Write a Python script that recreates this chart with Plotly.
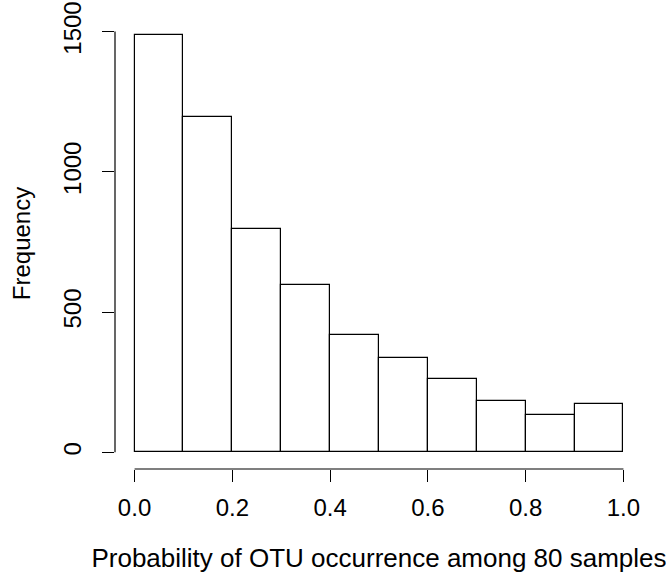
import plotly.graph_objects as go

bin_starts = [0.0, 0.1, 0.2, 0.3, 0.4, 0.5, 0.6, 0.7, 0.8, 0.9]
counts = [1489, 1195, 796, 598, 419, 336, 260, 182, 133, 174]
bin_width = 0.1
x_ticks = [0.0, 0.2, 0.4, 0.6, 0.8, 1.0]
x_tick_labels = ["0.0", "0.2", "0.4", "0.6", "0.8", "1.0"]
y_ticks = [0, 500, 1000, 1500]
y_tick_labels = ["0", "500", "1000", "1500"]
x_title = "Probability of OTU occurrence among 80 samples"
y_title = "Frequency"

FONT = "Liberation Sans, Arial, Helvetica, sans-serif"
TICK_FS = 24
ymax = max(counts)

fig = go.Figure()
fig.add_trace(go.Bar(
    x=[s + bin_width / 2 for s in bin_starts],
    y=counts,
    width=bin_width,
    marker=dict(color="white", line=dict(color="black", width=1.2)),
    hoverinfo="x+y",
))

fig.add_shape(type="line", xref="x", yref="paper", x0=x_ticks[0], x1=x_ticks[-1], y0=0, y1=0,
              line=dict(color="black", width=1.2))
fig.add_shape(type="line", xref="paper", yref="y", x0=0, x1=0, y0=y_ticks[0], y1=y_ticks[-1],
              line=dict(color="black", width=1.2))

fig.update_layout(
    width=666, height=575,
    margin=dict(l=115, r=23, t=18, b=106, autoexpand=False),
    paper_bgcolor="white", plot_bgcolor="white",
    showlegend=False,
    font=dict(family=FONT, size=TICK_FS, color="black"),
    bargap=0,
    xaxis=dict(
        range=[-0.04, 1.04], showgrid=False, zeroline=False, showline=False,
        automargin=False,
        tickmode="array", tickvals=x_ticks, ticktext=x_tick_labels,
        ticks="outside", ticklen=12, tickwidth=1.2, tickcolor="black",
        ticklabelstandoff=5, ticklabeloverflow="allow",
        tickfont=dict(size=TICK_FS),
        title=dict(text=x_title, standoff=29, font=dict(size=26)),
    ),
    yaxis=dict(
        range=[-0.04 * ymax, 1.04 * ymax], showgrid=False, zeroline=False, showline=False,
        automargin=False,
        tickmode="array", tickvals=y_ticks, ticktext=y_tick_labels, tickangle=-90,
        ticks="outside", ticklen=12, tickwidth=1.2, tickcolor="black",
        ticklabelstandoff=11, ticklabeloverflow="allow",
        tickfont=dict(size=TICK_FS),
        title=dict(text=y_title, standoff=22, font=dict(size=24)),
    ),
)

fig.write_html("out.html", post_script="document.body.style.margin='0';",
               config={"displayModeBar": False})
